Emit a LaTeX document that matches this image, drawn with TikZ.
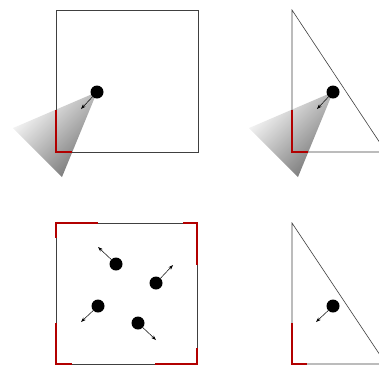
\documentclass[tikz,border=0pt]{standalone}
\usetikzlibrary{arrows.meta}
\begin{document}
\begin{tikzpicture}[x=1pt, y=-1pt,
  wall/.style={line width=0.6pt, black!75},
  hit/.style={line width=2pt, red!70!black},
  particle/.style={circle, fill=black, inner sep=0pt, minimum size=13pt},
  motion/.style={line width=0.5pt, -{Stealth[length=5pt,width=3.5pt]}},
  cone/.style={top color=white, bottom color=black!55, shading angle=45}]
\useasboundingbox (0,0) rectangle (379,365);
% top left: square with view cone
\shade[cone] (97,92) -- (13,128) -- (62,177) -- cycle;
\draw[wall] (56,10) rectangle (198,152);
\draw[hit] (56,110) -- (56,152) -- (72,152);
\node[particle] (pa) at (97,92) {};
\coordinate (ta) at (81,109);
\draw[motion] (pa) -- (ta);
% top right: triangle with view cone
\shade[cone] (333,92) -- (249,128) -- (298,177) -- cycle;
\draw[wall] (292,10) -- (292,152) -- (386,152) -- cycle;
\draw[hit] (292,110) -- (292,152) -- (308,152);
\node[particle] (pb) at (333,92) {};
\coordinate (tb) at (317,109);
\draw[motion] (pb) -- (tb);
% bottom left: square, four particles
\draw[wall] (56,223) rectangle (197,364);
\draw[hit] (98,223) -- (56,223) -- (56,238);
\draw[hit] (183,223) -- (197,223) -- (197,265);
\draw[hit] (197,348) -- (197,364) -- (155,364);
\draw[hit] (72,364) -- (56,364) -- (56,323);
\node[particle] (pc) at (116,264) {};
\node[particle] (pd) at (156,283) {};
\node[particle] (pe) at (98,306) {};
\node[particle] (pf) at (138,323) {};
\coordinate (tc) at (98,247);
\coordinate (td) at (173,265);
\coordinate (te) at (81,322);
\coordinate (tf) at (156,340);
\foreach \p/\t in {pc/tc, pd/td, pe/te, pf/tf}
  \draw[motion] (\p) -- (\t);
% bottom right: triangle, one particle
\draw[wall] (292,223) -- (292,364) -- (386,364) -- cycle;
\draw[hit] (292,323) -- (292,364) -- (307,364);
\node[particle] (pg) at (333,306) {};
\coordinate (tg) at (316,322);
\draw[motion] (pg) -- (tg);
\end{tikzpicture}
\end{document}
